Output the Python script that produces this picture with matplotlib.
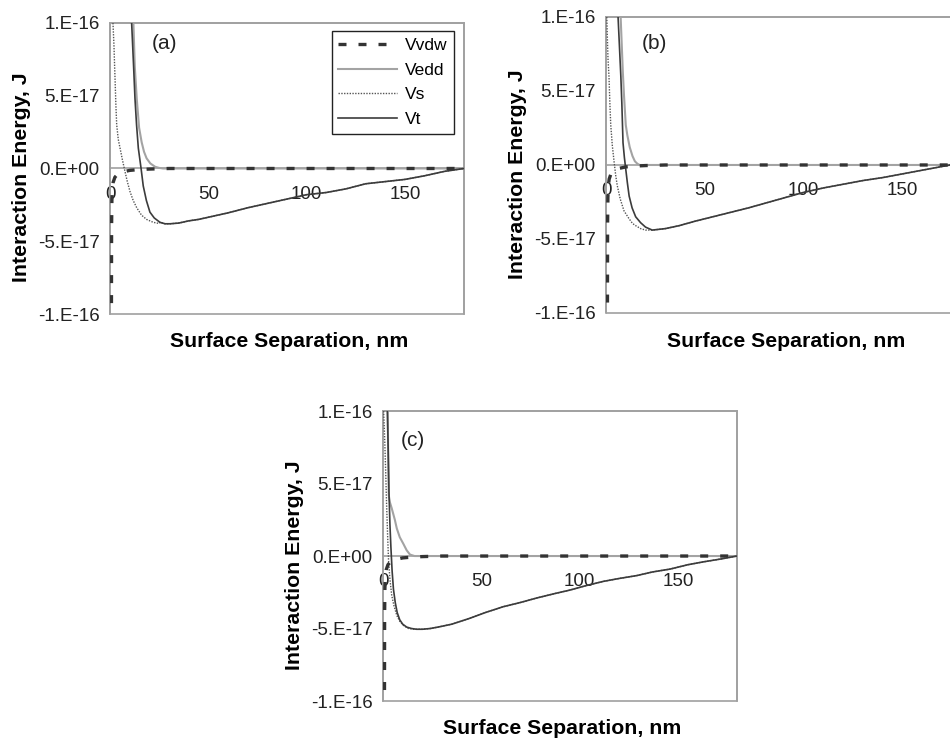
import matplotlib
matplotlib.use("Agg")
import matplotlib.pyplot as plt
from matplotlib.patches import Rectangle

plt.rcParams['font.family'] = ['Liberation Sans', 'DejaVu Sans']

# energies in units of 1e-17 J, separation in nm
xticks = [0, 50, 100, 150]
xticklabels = ["0", "50", "100", "150"]
yticks = [-10, -5, 0, 5, 10]
yticklabels = ["-1.E-16", "-5.E-17", "0.E+00", "5.E-17", "1.E-16"]

# van der Waals term (same in all panels)
vdw_x = [0.7, 0.8, 0.95, 1.2, 1.6, 2.5, 4, 6, 10, 15, 20, 30, 180]
vdw_y = [-12, -4, -2.2, -1.4, -0.95, -0.6, -0.37, -0.25, -0.13, -0.07, -0.04, 0, 0]

# panel (a)
edd_a_x = [11.9, 12.6, 13.6, 14.8, 16.1, 17.3, 18.6, 20.5, 22.9, 25, 27, 180]
edd_a_y = [10, 7.0, 4.8, 2.8, 1.8, 1.15, 0.7, 0.35, 0.12, 0.04, 0, 0]
s_a_x = [1.5, 2.0, 2.3, 2.6, 3.0, 3.4, 4.2, 5.1, 6.3, 7.6, 8.8, 10.2, 11.8, 13.6, 16, 18.6, 22, 25]
s_a_y = [10, 8.5, 7.2, 6.0, 4.3, 3.0, 2.0, 1.4, 0.6, -0.2, -0.9, -1.6, -2.2, -2.7, -3.2, -3.5, -3.7, -3.78]
t_a_x = [11.0, 12.0, 12.7, 13.5, 14.4, 15.8, 16.9, 18.5, 20.3, 22.5, 25.4, 28, 30.5, 35, 40, 45, 50,
         60, 70, 80, 90, 100, 110, 120, 130, 140, 150, 160, 170, 180]
t_a_y = [10, 7.0, 4.8, 3.0, 1.4, 0.0, -1.2, -2.2, -3.0, -3.4, -3.7, -3.8, -3.8, -3.75, -3.6, -3.5, -3.35,
         -3.05, -2.7, -2.4, -2.1, -1.8, -1.65, -1.4, -1.05, -0.9, -0.75, -0.5, -0.2, 0.0]

# panel (b)
edd_b_x = [7.4, 8.0, 8.5, 9.1, 10.0, 10.8, 12.0, 13.4, 14.6, 15.9, 17, 180]
edd_b_y = [10, 8.0, 6.3, 4.7, 2.7, 2.0, 1.2, 0.6, 0.25, 0.08, 0, 0]
s_b_x = [0.4, 0.7, 1.0, 1.5, 2.0, 2.4, 3.2, 4.1, 4.9, 5.7, 7.2, 9.1, 11.5, 13.4, 15, 17.5, 20]
s_b_y = [10, 8.5, 7.2, 6.0, 4.0, 2.7, 1.3, 0.2, -0.7, -1.4, -2.3, -3.1, -3.6, -3.95, -4.1, -4.3, -4.4]
t_b_x = [6.1, 6.8, 7.5, 8.0, 8.6, 9.3, 10.0, 10.8, 11.7, 13.2, 15, 17.5, 20, 23.4, 30, 37, 45, 54,
         63, 72, 80, 88, 100, 110, 122, 130, 140, 150, 160, 174, 180]
t_b_y = [10, 8.0, 6.0, 4.2, 1.5, 0.5, -0.3, -1.2, -2.1, -2.9, -3.5, -3.9, -4.2, -4.4, -4.3, -4.1, -3.8, -3.5,
         -3.2, -2.9, -2.6, -2.3, -1.85, -1.55, -1.25, -1.05, -0.85, -0.6, -0.35, 0.0, 0.0]

# panel (c)
edd_c_x = [2.4, 2.6, 2.9, 3.5, 4.4, 6, 7, 8.5, 10.3, 12, 13.7, 16, 180]
edd_c_y = [10, 7.0, 4.2, 3.7, 3.3, 2.5, 1.9, 1.3, 0.85, 0.4, 0.1, 0, 0]
s_c_x = [0.3, 0.8, 1.3, 1.8, 2.3, 2.8, 3.5, 4.4, 5.5, 7, 8.5, 10.5, 13, 15.8, 18]
s_c_y = [10, 8.2, 6.0, 3.6, 1.5, -0.3, -1.6, -2.7, -3.4, -4.1, -4.5, -4.8, -5.0, -5.05, -5.05]
t_c_x = [2.2, 2.6, 3.0, 3.5, 4.0, 4.6, 5.3, 6.2, 7.2, 8.5, 10, 12, 14.5, 17, 20, 24, 28, 35, 44, 52,
         61, 70, 78, 87, 95, 103, 112, 120, 129, 137, 146, 155, 163, 172, 180]
t_c_y = [10, 7.5, 4.5, 2.2, 0.6, -1.0, -2.3, -3.2, -3.9, -4.4, -4.7, -4.9, -5.0, -5.05, -5.05, -5.0, -4.9,
         -4.7, -4.3, -3.9, -3.5, -3.2, -2.9, -2.6, -2.35, -2.05, -1.75, -1.55, -1.35, -1.1, -0.9, -0.6,
         -0.4, -0.2, 0.0]

panels = [
    ("(a)", [0.1158, 0.5751, 0.3726, 0.3938], (0.153, 0.928), edd_a_x, edd_a_y, s_a_x, s_a_y, t_a_x, t_a_y),
    ("(b)", [0.6379, 0.5765, 0.3747, 0.4005], (0.136, 0.912), edd_b_x, edd_b_y, s_b_x, s_b_y, t_b_x, t_b_y),
    ("(c)", [0.4032, 0.0514, 0.3726, 0.3924], (0.085, 0.900), edd_c_x, edd_c_y, s_c_x, s_c_y, t_c_x, t_c_y),
]

frame_col = '#a0a0a0'
fig = plt.figure(figsize=(9.5, 7.39), dpi=100)

for tag, pos, tagpos, ex, ey, sx, sy, tx, ty in panels:
    ax = fig.add_axes(pos)
    # Vs follows Vt once the other terms have died away
    tail = [i for i, v in enumerate(tx) if v > sx[-1]]
    sx_full = sx + [tx[i] for i in tail]
    sy_full = sy + [ty[i] for i in tail]

    ax.plot(vdw_x, vdw_y, color='#333333', lw=2.4, dashes=(2.4, 3.6), zorder=4, label='Vvdw')
    ax.plot(ex, ey, color='#a3a3a3', lw=1.5, zorder=3, label='Vedd')
    ax.plot(sx_full, sy_full, color='#555555', lw=1.0, dashes=(1, 1), zorder=3, label='Vs')
    ax.plot(tx, ty, color='#3c3c3c', lw=1.2, zorder=3, label='Vt')

    ax.set_xlim(0, 180)
    ax.set_ylim(-10, 10)
    ax.set_xticks(xticks)
    ax.set_xticklabels(xticklabels)
    ax.set_yticks(yticks)
    ax.set_yticklabels(yticklabels)
    ax.tick_params(axis='x', length=0, pad=12.5, labelsize=13.5, colors='#222222')
    ax.tick_params(axis='y', length=0, pad=7.5, labelsize=13.5, colors='#222222')

    for s in ax.spines.values():
        s.set_color(frame_col)
        s.set_linewidth(1.2)
    ax.spines['bottom'].set_position(('data', 0))
    ax.add_patch(Rectangle((0, 0), 1, 1, transform=ax.transAxes, fill=False,
                           ec=frame_col, lw=1.2, clip_on=False, zorder=2.5))

    ax.set_xlabel("Surface Separation, nm", fontsize=15.3, fontweight='bold')
    ax.xaxis.set_label_coords(0.507, -0.095)
    ax.xaxis.label.set_verticalalignment('center')
    ax.set_ylabel("Interaction Energy, J", fontsize=15.3, fontweight='bold')
    ax.yaxis.set_label_coords(-0.25, 0.47)
    ax.yaxis.label.set_verticalalignment('center')

    ax.text(tagpos[0], tagpos[1], tag, transform=ax.transAxes, fontsize=15,
            ha='center', va='center', color='#222222')

    if tag == "(a)":
        leg = ax.legend(loc='upper right', bbox_to_anchor=(0.972, 0.9725), borderaxespad=0,
                        fontsize=12.5, handlelength=3.35, handletextpad=0.46,
                        labelspacing=0.55, borderpad=0.4, fancybox=False, framealpha=1)
        leg.get_frame().set_edgecolor('#222222')
        leg.get_frame().set_linewidth(1.0)

fig.savefig("out.png", dpi=100)
